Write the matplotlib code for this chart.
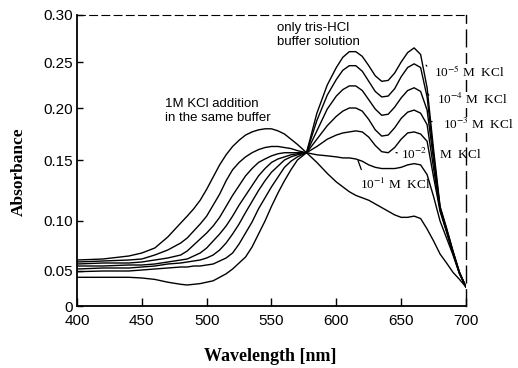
import numpy as np
import matplotlib
matplotlib.use("Agg")
import matplotlib.pyplot as plt

# wavelength grid (nm) shared by all spectra
wavelength = ([400, 420, 440, 450, 460, 470]
              + list(range(480, 571, 5))
              + [577, 585, 593]
              + list(range(600, 701, 5)))

# absorbance, one list per KCl concentration
tris_only = [0.041, 0.041, 0.041, 0.040, 0.038, 0.034,
             0.031, 0.030, 0.031, 0.032, 0.034, 0.036, 0.041, 0.046, 0.052, 0.058,
             0.064, 0.074, 0.087, 0.100, 0.112, 0.123, 0.133, 0.142, 0.150,
             0.157, 0.195, 0.225,
             0.244, 0.255, 0.261, 0.261, 0.256, 0.246, 0.235, 0.229, 0.230, 0.238,
             0.250, 0.260, 0.265, 0.258, 0.222, 0.160, 0.112, 0.093, 0.070, 0.048, 0.027]
kcl_1e5 = [0.049, 0.050, 0.050, 0.051, 0.052, 0.053,
           0.054, 0.054, 0.055, 0.055, 0.056, 0.057, 0.060, 0.063, 0.068, 0.077,
           0.088, 0.099, 0.110, 0.119, 0.128, 0.136, 0.144, 0.149, 0.153,
           0.157, 0.188, 0.214,
           0.231, 0.241, 0.246, 0.246, 0.240, 0.229, 0.218, 0.212, 0.213, 0.221,
           0.234, 0.244, 0.248, 0.244, 0.212, 0.155, 0.111, 0.092, 0.069, 0.048, 0.027]
kcl_1e4 = [0.052, 0.053, 0.053, 0.054, 0.055, 0.057,
           0.058, 0.059, 0.060, 0.061, 0.063, 0.066, 0.071, 0.078, 0.087, 0.097,
           0.107, 0.116, 0.125, 0.133, 0.140, 0.145, 0.150, 0.153, 0.155,
           0.157, 0.178, 0.199,
           0.213, 0.220, 0.224, 0.224, 0.219, 0.209, 0.199, 0.193, 0.194, 0.201,
           0.211, 0.219, 0.222, 0.218, 0.198, 0.150, 0.110, 0.091, 0.069, 0.047, 0.027]
kcl_1e3 = [0.055, 0.055, 0.056, 0.056, 0.057, 0.059,
           0.061, 0.062, 0.065, 0.068, 0.073, 0.080, 0.087, 0.095, 0.104, 0.113,
           0.121, 0.129, 0.137, 0.143, 0.148, 0.151, 0.153, 0.155, 0.156,
           0.157, 0.170, 0.183,
           0.192, 0.197, 0.200, 0.200, 0.197, 0.189, 0.179, 0.173, 0.174, 0.181,
           0.190, 0.196, 0.198, 0.195, 0.184, 0.143, 0.109, 0.090, 0.068, 0.047, 0.027]
kcl_1e2 = [0.057, 0.058, 0.058, 0.059, 0.061, 0.063,
           0.066, 0.070, 0.076, 0.082, 0.088, 0.095, 0.103, 0.112, 0.121, 0.129,
           0.137, 0.143, 0.148, 0.151, 0.154, 0.156, 0.157, 0.157, 0.157,
           0.157, 0.163, 0.170,
           0.174, 0.176, 0.177, 0.178, 0.177, 0.172, 0.164, 0.158, 0.157, 0.162,
           0.170, 0.176, 0.177, 0.175, 0.168, 0.136, 0.108, 0.089, 0.067, 0.046, 0.027]
kcl_1e1 = [0.059, 0.060, 0.061, 0.062, 0.066, 0.071,
           0.078, 0.083, 0.090, 0.097, 0.104, 0.113, 0.122, 0.133, 0.142, 0.148,
           0.153, 0.157, 0.160, 0.162, 0.163, 0.163, 0.162, 0.161, 0.159,
           0.157, 0.155, 0.154,
           0.153, 0.152, 0.152, 0.151, 0.149, 0.146, 0.144, 0.143, 0.143, 0.143,
           0.144, 0.146, 0.147, 0.146, 0.138, 0.120, 0.100, 0.083, 0.066, 0.046, 0.027]
kcl_1m = [0.061, 0.062, 0.065, 0.068, 0.073, 0.084,
          0.098, 0.104, 0.110, 0.117, 0.126, 0.136, 0.146, 0.155, 0.163, 0.169,
          0.174, 0.177, 0.179, 0.180, 0.180, 0.178, 0.175, 0.170, 0.165,
          0.157, 0.148, 0.139,
          0.132, 0.128, 0.124, 0.121, 0.119, 0.117, 0.114, 0.111, 0.108, 0.105,
          0.103, 0.103, 0.104, 0.102, 0.092, 0.080, 0.067, 0.058, 0.048, 0.038, 0.027]

spectra = [tris_only, kcl_1e5, kcl_1e4, kcl_1e3, kcl_1e2, kcl_1e1, kcl_1m]

xticks = [400, 450, 500, 550, 600, 650, 700]
yticks = [0, 0.05, 0.10, 0.15, 0.20, 0.25, 0.30]
ytick_labels = ["0", "0.05", "0.10", "0.15", "0.20", "0.25", "0.30"]

# the printed y axis is not evenly spaced; map each tick to where it sits
ytick_px = [0, 35, 85, 146, 198, 244, 291]


def fwd(v):
    v = np.asarray(v, dtype=float)
    out = np.interp(v, yticks, ytick_px)
    lo = v < yticks[0]
    hi = v > yticks[-1]
    out[lo] = ytick_px[0] + (v[lo] - yticks[0]) * 700
    out[hi] = ytick_px[-1] + (v[hi] - yticks[-1]) * 940
    return out


def inv(p):
    p = np.asarray(p, dtype=float)
    out = np.interp(p, ytick_px, yticks)
    lo = p < ytick_px[0]
    hi = p > ytick_px[-1]
    out[lo] = yticks[0] + (p[lo] - ytick_px[0]) / 700
    out[hi] = yticks[-1] + (p[hi] - ytick_px[-1]) / 940
    return out


plt.rcParams['mathtext.fontset'] = 'stix'
sans = ['Liberation Sans', 'DejaVu Sans']
serif = ['Liberation Serif', 'DejaVu Serif']

fig = plt.figure(figsize=(5.18, 3.68), dpi=100)
ax = fig.add_axes([77 / 518, 1 - 306 / 368, 389 / 518, 291 / 368])
ax.set_yscale('function', functions=(fwd, inv))

for s in spectra:
    ax.plot(wavelength, s, color='black', lw=1.0)

ax.set_xlim(400, 700)
ax.set_ylim(0, 0.30)
ax.set_xticks(xticks)
ax.set_xticklabels([str(t) for t in xticks], family=sans, fontsize=11)
ax.set_yticks(yticks)
ax.set_yticklabels(ytick_labels, family=sans, fontsize=11)
ax.minorticks_off()
ax.tick_params(axis='x', direction='in', length=6, width=1, pad=6)
ax.tick_params(axis='y', direction='in', length=4, width=1, pad=3)

for side in ['left', 'bottom']:
    ax.spines[side].set_linewidth(1.3)
ax.spines['top'].set_linewidth(0.8)
ax.spines['top'].set_linestyle((0, (7, 4)))
ax.spines['right'].set_linewidth(1.0)
ax.spines['right'].set_linestyle((0, (12, 5)))

ax.set_xlabel("Wavelength [nm]", family=serif, fontweight='bold', fontsize=13)
ax.set_ylabel("Absorbance", family=serif, fontweight='bold', fontsize=12.5)
ax.xaxis.set_label_coords(0.497, -0.145)
ax.yaxis.set_label_coords(-0.128, 0.46)

ax.text(554, 0.279, "only tris-HCl\nbuffer solution", family=sans, fontsize=9.5,
        va='center', ha='left', linespacing=1.25)
ax.text(468, 0.197, "1M KCl addition\nin the same buffer", family=sans, fontsize=9.5,
        va='center', ha='left', linespacing=1.2)

# labels on the right sit over the dashed frame and break it
conc_labels = [(r"10$^{-5}$ M  KCl", 675, 0.239, True),
               (r"10$^{-4}$ M  KCl", 678, 0.209, True),
               (r"10$^{-3}$ M  KCl", 682, 0.184, True),
               (r"10$^{-2}$    M  KCl", 650, 0.155, False),
               (r"10$^{-1}$ M  KCl", 618, 0.130, False)]
for txt, x, y, masked in conc_labels:
    box = dict(fc='white', ec='none', pad=0.3) if masked else None
    ax.text(x, y, txt, family=serif, fontsize=9.5, va='center', ha='left',
            bbox=box, zorder=4, clip_on=False)

# short leader strokes tying labels to their curves
leaders = [((668, 0.249), (671, 0.243)),
           ((671, 0.215), (672, 0.211)),
           ((671, 0.187), (676, 0.187)),
           ((644, 0.158), (649, 0.156)),
           ((616, 0.152), (620, 0.140))]
for (x0, y0), (x1, y1) in leaders:
    ax.annotate("", xy=(x0, y0), xytext=(x1, y1),
                arrowprops=dict(arrowstyle='-', lw=0.9, color='black'))

fig.savefig("out.png", dpi=100)
